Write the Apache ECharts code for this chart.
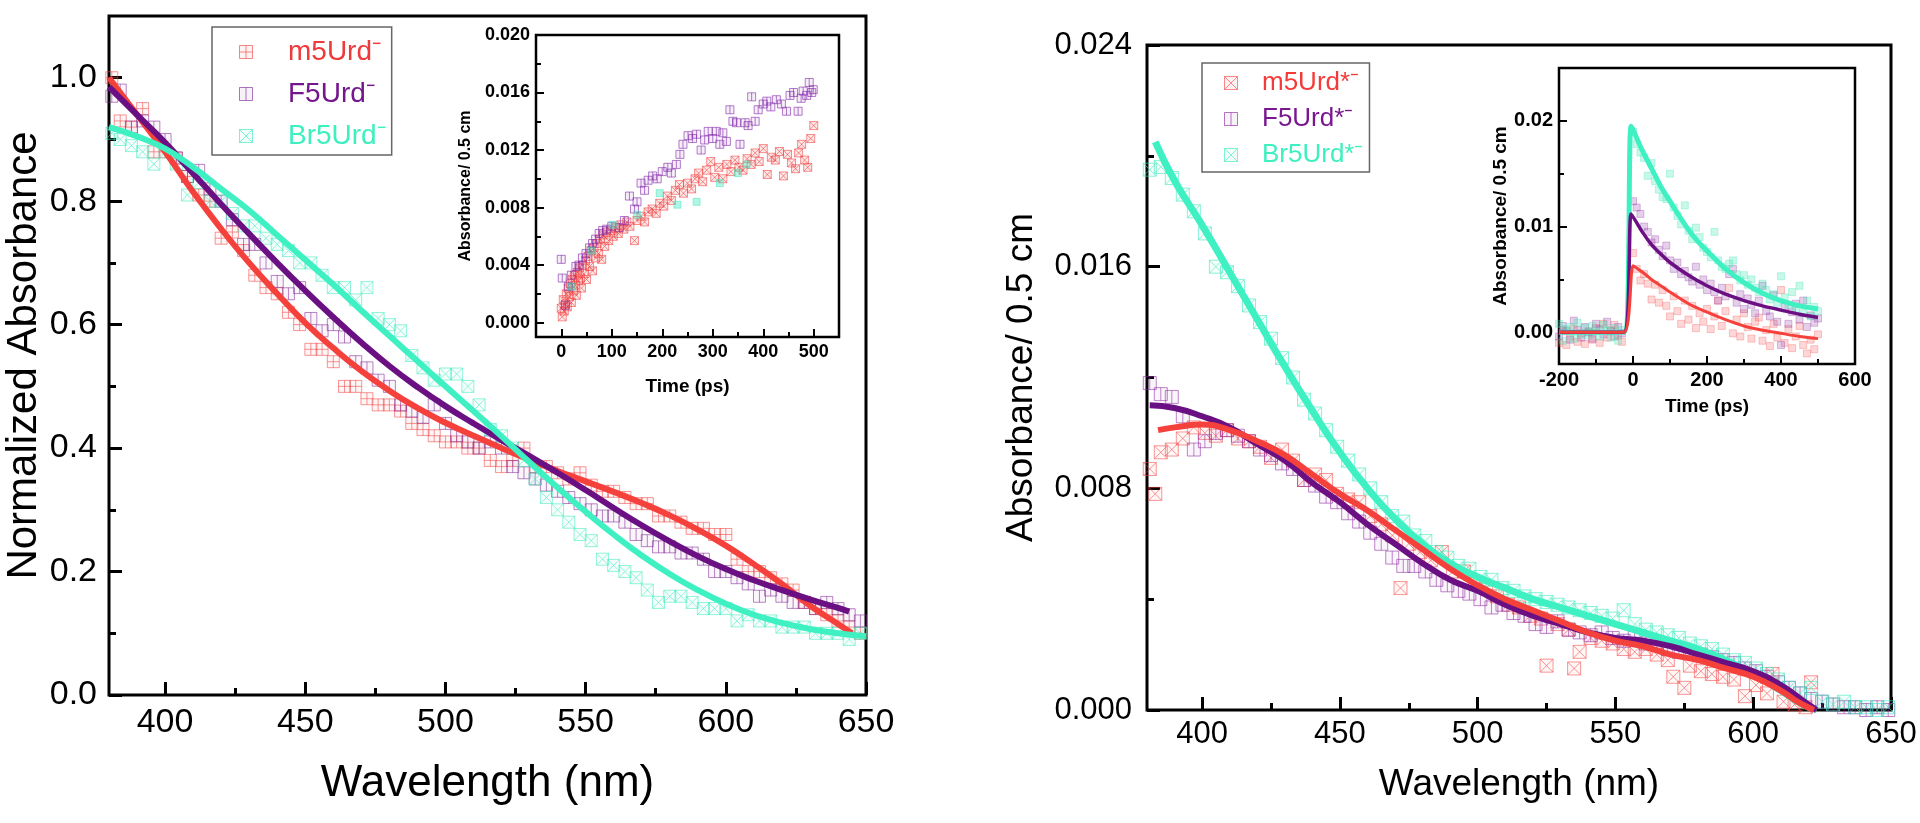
<!DOCTYPE html>
<html>
<head>
<meta charset="utf-8">
<script src="https://cdn.jsdelivr.net/npm/echarts@6/dist/echarts.min.js"></script>
<style>
  html, body { margin: 0; padding: 0; background: #fff; }
  #chart { width: 1920px; height: 823px; }
</style>
</head>
<body>
<div id="chart"></div>
<script>
// ---- left panel: normalized spectra ----
const wlLeft = [381,384,388,392,396,400,404,408,412,416,420,424,428,432,436,440,444,448,452,456,460,464,468,472,476,480,484,488,492,496,500,504,508,512,516,520,524,528,532,536,540,544,548,552,556,560,564,568,572,576,580,584,588,592,596,600,604,608,612,616,620,624,628,632,636,640,644,648]
const m5Left = [1.00,0.93,0.92,0.95,0.88,0.88,0.87,0.84,0.81,0.80,
  0.74,0.75,0.72,0.68,0.66,0.65,0.62,0.60,0.56,0.56,
  0.54,0.50,0.50,0.48,0.47,0.47,0.46,0.44,0.43,0.42,
  0.41,0.41,0.40,0.40,0.38,0.37,0.38,0.40,0.37,0.37,
  0.36,0.35,0.36,0.34,0.33,0.33,0.32,0.31,0.31,0.29,
  0.29,0.28,0.27,0.27,0.26,0.26,0.22,0.20,0.20,0.19,
  0.18,0.17,0.15,0.14,0.13,0.12,0.11,0.10]
const f5Left = [0.97,0.98,0.92,0.93,0.92,0.90,0.87,0.84,0.85,0.82,
  0.80,0.77,0.73,0.73,0.70,0.67,0.65,0.66,0.61,0.59,
  0.60,0.58,0.54,0.53,0.51,0.50,0.47,0.46,0.45,0.47,
  0.44,0.42,0.41,0.40,0.41,0.40,0.37,0.36,0.35,0.34,
  0.33,0.32,0.31,0.30,0.29,0.29,0.28,0.26,0.25,0.24,
  0.24,0.23,0.23,0.22,0.20,0.20,0.19,0.18,0.16,0.17,
  0.16,0.15,0.15,0.14,0.15,0.14,0.13,0.12]
const br5Left = [0.91,0.90,0.89,0.88,0.86,0.88,0.86,0.81,0.83,0.80,
  0.80,0.78,0.76,0.76,0.74,0.73,0.72,0.70,0.70,0.68,
  0.66,0.66,0.64,0.66,0.61,0.60,0.59,0.55,0.53,0.51,
  0.52,0.52,0.50,0.47,0.43,0.42,0.40,0.38,0.35,0.32,
  0.30,0.28,0.26,0.25,0.22,0.21,0.20,0.19,0.17,0.15,
  0.16,0.16,0.15,0.14,0.14,0.14,0.12,0.13,0.12,0.12,
  0.11,0.11,0.11,0.10,0.10,0.10,0.09,0.10]
const m5LeftFit = [[380,1.0],[390,0.94],[400,0.88],[410,0.815],[420,0.755],[430,0.70],[440,0.65],[450,0.603],[460,0.562],[470,0.525],[480,0.493],[490,0.465],[500,0.441],[510,0.42],[520,0.40],[530,0.381],[540,0.363],[550,0.346],[560,0.329],[570,0.311],[580,0.291],[590,0.268],[600,0.242],[610,0.212],[620,0.18],[630,0.145],[640,0.115],[645,0.10]]
const f5LeftFit = [[380,0.985],[390,0.94],[400,0.895],[410,0.845],[420,0.795],[430,0.747],[440,0.70],[450,0.655],[460,0.612],[470,0.571],[480,0.533],[490,0.499],[500,0.468],[510,0.44],[520,0.413],[530,0.387],[540,0.36],[550,0.332],[560,0.303],[570,0.275],[580,0.249],[590,0.225],[600,0.204],[610,0.186],[620,0.17],[630,0.155],[640,0.141],[644,0.135]]
const br5LeftFit = [[380,0.92],[390,0.905],[400,0.885],[410,0.855],[420,0.82],[430,0.785],[440,0.745],[450,0.705],[460,0.665],[470,0.623],[480,0.582],[490,0.541],[500,0.50],[510,0.46],[520,0.419],[530,0.377],[540,0.336],[550,0.297],[560,0.26],[570,0.226],[580,0.196],[590,0.17],[600,0.148],[610,0.13],[620,0.117],[630,0.107],[640,0.10],[650,0.095]]

// left inset: growth kinetics
const m5GrowInset = [[0,0.0010],[2,0.0004],[4,0.0016],[6,0.0008],[8,0.0013],[10,0.0020],[12,0.0011],[14,0.0024],[16,0.0018],[18,0.0027],[20,0.0014],[22,0.0030],[24,0.0022],[26,0.0033],[28,0.0026],[30,0.0019],[32,0.0035],[34,0.0029],[36,0.0038],[38,0.0031],[40,0.0024],[42,0.0040],[45,0.0034],[48,0.0043],[50,0.0030],[53,0.0046],[56,0.0039],[59,0.0050],[62,0.0036],[65,0.0052],[68,0.0045],[71,0.0055],[74,0.0048],[77,0.0058],[80,0.0044],[83,0.0061],[86,0.0053],[90,0.0063],[94,0.0057],[98,0.0064],[103,0.0060],[108,0.0066],[113,0.0062],[118,0.0068],[124,0.0065],[130,0.0070],[136,0.0067],[145,0.0057],[150,0.0071],[158,0.0074],[165,0.0070],[172,0.0077],[180,0.0079],[188,0.0076],[195,0.0083],[203,0.0081],[210,0.0088],[218,0.0085],[226,0.0092],[234,0.0096],[242,0.0090],[250,0.0097],[258,0.0093],[265,0.0100],[272,0.0104],[280,0.0098],[288,0.0106],[296,0.0112],[304,0.0101],[312,0.0108],[320,0.0100],[328,0.0110],[336,0.0105],[344,0.0113],[352,0.0108],[360,0.0106],[368,0.0114],[376,0.0110],[384,0.0118],[392,0.0112],[400,0.0121],[408,0.0103],[416,0.0115],[424,0.0113],[432,0.0119],[440,0.0102],[448,0.0117],[456,0.0111],[464,0.0107],[470,0.0118],[476,0.0124],[482,0.0113],[488,0.0108],[494,0.0128],[500,0.0137]]
const f5GrowInset = [[0,0.0044],[2,0.0031],[8,0.0012],[14,0.0025],[20,0.0033],[29,0.0039],[35,0.0040],[42,0.0045],[49,0.0048],[56,0.0052],[62,0.0055],[68,0.0058],[75,0.0062],[82,0.0064],[90,0.0065],[100,0.0067],[115,0.0066],[125,0.0071],[135,0.0088],[145,0.0079],[150,0.0084],[158,0.0097],[165,0.0092],[172,0.0099],[181,0.0102],[190,0.0100],[200,0.0105],[211,0.0108],[218,0.0104],[228,0.0110],[235,0.0117],[241,0.0124],[251,0.0130],[260,0.0128],[268,0.0131],[277,0.0120],[284,0.0127],[291,0.0133],[300,0.0128],[307,0.0133],[314,0.0124],[320,0.0132],[327,0.0126],[334,0.0148],[340,0.0140],[347,0.0139],[354,0.0124],[364,0.0139],[370,0.0137],[377,0.0157],[384,0.0140],[390,0.0148],[400,0.0152],[407,0.0154],[415,0.0150],[426,0.0155],[436,0.0152],[446,0.0147],[453,0.0158],[460,0.0160],[469,0.0147],[475,0.0156],[479,0.0161],[486,0.0158],[491,0.0167],[496,0.0160],[499,0.0162]]
const br5GrowInset = [[20,0.0025],[60,0.0050],[102,0.0068],[150,0.0075],[195,0.0090],[230,0.0082],[268,0.0084],[314,0.0097],[350,0.0104],[367,0.0110]]

// ---- right panel: absolute spectra ----
const wlRight = [381,385,389,393,397,401,405,409,413,417,421,425,429,433,437,441,445,449,453,457,461,465,469,473,477,481,485,489,493,497,501,505,509,513,517,521,525,529,533,537,541,545,549,553,557,561,565,569,573,577,581,585,589,593,597,601,605,609,613,617,621,625,629,633,637,641,645,649]
const br5Right = [0.0195,0.0196,0.0192,0.0186,0.0180,0.0172,0.0160,0.0158,0.0153,0.0146,
  0.0140,0.0134,0.0127,0.0120,0.0112,0.0107,0.0101,0.0095,0.0090,0.0085,
  0.0080,0.0075,0.0070,0.0068,0.0063,0.0061,0.0057,0.0055,0.0052,0.0051,
  0.0048,0.0047,0.0044,0.0043,0.0041,0.0040,0.0039,0.0038,0.0037,0.0036,
  0.0035,0.0034,0.0033,0.0036,0.0031,0.0029,0.0028,0.0027,0.0026,0.0024,
  0.0023,0.0022,0.0020,0.0018,0.0017,0.0015,0.0013,0.0011,0.0008,0.0006,
  0.0008,0.0003,0.0002,0.0003,0.0001,0.0001,0.0000,0.0001]
const f5Right = [0.0118,0.0114,0.0113,0.0106,0.0094,0.0097,0.0100,0.0101,0.0099,0.0097,
  0.0094,0.0092,0.0089,0.0087,0.0083,0.0081,0.0077,0.0075,0.0071,0.0068,
  0.0064,0.0060,0.0055,0.0052,0.0052,0.0050,0.0047,0.0045,0.0043,0.0042,
  0.0040,0.0037,0.0038,0.0035,0.0034,0.0031,0.0030,0.0032,0.0029,0.0028,
  0.0027,0.0028,0.0026,0.0025,0.0026,0.0024,0.0024,0.0022,0.0021,0.0021,
  0.0020,0.0019,0.0018,0.0017,0.0015,0.0014,0.0012,0.0010,0.0008,0.0006,
  0.0004,0.0003,0.0002,0.0001,0.0001,0.0000,0.0001,0.0000]
const m5Right = [[381,0.0087],[383,0.0078],[385,0.0093],[389,0.0094],[393,0.0098],[397,0.0102],[401,0.0100],[405,0.0099],[409,0.0101],[413,0.0098],[417,0.0097],[421,0.0095],[425,0.0091],[429,0.0094],[433,0.0090],[437,0.0083],[441,0.0085],[445,0.0083],[449,0.0078],[453,0.0076],[457,0.0075],[461,0.0070],[465,0.0067],[469,0.0063],[472,0.0044],[475,0.0060],[479,0.0057],[483,0.0054],[487,0.0057],[491,0.0050],[495,0.0050],[499,0.0046],[503,0.0044],[507,0.0041],[511,0.0038],[515,0.0037],[519,0.0034],[523,0.0033],[525,0.0016],[529,0.0031],[533,0.0029],[535,0.0015],[537,0.0021],[541,0.0026],[545,0.0025],[549,0.0024],[553,0.0022],[557,0.0021],[561,0.0022],[565,0.0020],[569,0.0018],[571,0.0012],[575,0.0008],[577,0.0016],[581,0.0014],[585,0.0013],[589,0.0012],[593,0.0011],[597,0.0005],[601,0.0009],[605,0.0006],[607,0.0013],[611,0.0003],[615,0.0002],[619,0.0001],[621,0.0010]]
const br5RightFit = [[383,0.0205],[390,0.0191],[400,0.0175],[410,0.0158],[420,0.0141],[430,0.0124],[440,0.0108],[450,0.0093],[460,0.0080],[470,0.0069],[480,0.0060],[490,0.0053],[500,0.0048],[510,0.0044],[520,0.0040],[530,0.0037],[540,0.0034],[550,0.0031],[560,0.0028],[570,0.0025],[580,0.0022],[590,0.0018],[600,0.0013],[610,0.0007],[618,0.0002],[623,0]]
const f5RightFit = [[381,0.0110],[390,0.0109],[400,0.0106],[410,0.0102],[420,0.0096],[430,0.0090],[440,0.0082],[450,0.0075],[460,0.0067],[470,0.0060],[480,0.0053],[490,0.0047],[500,0.0043],[510,0.0038],[520,0.0034],[530,0.0031],[540,0.0028],[550,0.0026],[560,0.0025],[570,0.0023],[580,0.0020],[590,0.0017],[600,0.0014],[610,0.0009],[620,0.0002],[623,0]]
const m5RightFit = [[384,0.0101],[390,0.0102],[400,0.0103],[410,0.0101],[420,0.0097],[430,0.0092],[440,0.0085],[450,0.0078],[460,0.0072],[470,0.0065],[480,0.0058],[490,0.0051],[500,0.0045],[510,0.0040],[520,0.0036],[530,0.0032],[540,0.0028],[550,0.0025],[560,0.0023],[570,0.0020],[580,0.0018],[590,0.0015],[600,0.0012],[610,0.0007],[616,0.0003],[622,0]]

// right inset: decay kinetics
const tDecay = [-200,-190,-180,-170,-160,-150,-140,-130,-120,-110,-100,-90,-80,-70,-60,-50,-40,-30,
  0,10,20,30,40,50,60,70,80,90,100,110,120,130,140,150,160,170,180,190,200,210,220,230,240,250,260,270,280,290,300,310,320,330,340,350,360,370,380,390,400,410,420,430,440,450,460,470,480,490,500]
const br5Decay = [0.0008,-0.0008,0.0003,0.0005,-0.0006,0.0009,-0.0002,0.0004,-0.0003,0.0006,0.0001,-0.0004,0.0007,0.0002,-0.0005,0.0004,-0.0008,0.0002,
  0.0190,0.0178,0.0170,0.0165,0.0148,0.0160,0.0143,0.0135,0.0128,0.0126,
  0.0150,0.0118,0.0110,0.0102,0.0120,0.0096,0.0088,0.0099,0.0090,0.0080,
  0.0076,0.0071,0.0095,0.0068,0.0062,0.0060,0.0065,0.0068,0.0055,0.0049,
  0.0054,0.0045,0.0050,0.0042,0.0038,0.0046,0.0040,0.0031,0.0036,0.0028,
  0.0053,0.0033,0.0026,0.0038,0.0022,0.0044,0.0018,0.0030,0.0015,0.0024,
  0.0020]
const f5Decay = [-0.0004,0.0006,0.0001,-0.0007,0.0011,0.0002,-0.0005,0.0005,0.0000,-0.0006,0.0008,0.0003,-0.0002,0.0010,0.0001,-0.0004,0.0005,-0.0001,
  0.0124,0.0118,0.0112,0.0100,0.0095,0.0085,0.0088,0.0078,0.0072,0.0082,
  0.0068,0.0060,0.0066,0.0055,0.0058,0.0052,0.0048,0.0062,0.0045,0.0050,
  0.0040,0.0046,0.0038,0.0030,0.0042,0.0034,0.0055,0.0060,0.0028,0.0036,
  0.0022,0.0032,0.0026,0.0018,0.0030,0.0044,0.0020,0.0015,0.0035,0.0010,
  -0.0012,0.0024,0.0008,0.0019,0.0027,0.0012,0.0030,0.0005,0.0016,0.0009,
  0.0013]
const m5Decay = [-0.0010,0.0002,-0.0012,-0.0004,0.0003,-0.0009,-0.0001,-0.0011,0.0001,-0.0007,0.0004,-0.0010,0.0008,-0.0005,0.0002,0.0007,-0.0003,-0.0009,
  0.0075,0.0060,0.0049,0.0055,0.0046,0.0031,0.0045,0.0028,0.0040,0.0025,
  0.0015,0.0034,0.0020,0.0008,0.0030,0.0012,0.0025,0.0004,0.0018,0.0010,
  0.0022,0.0003,0.0015,0.0030,0.0006,0.0020,0.0042,-0.0001,0.0012,-0.0004,
  0.0018,0.0005,-0.0006,0.0010,0.0014,-0.0008,0.0002,-0.0013,0.0008,-0.0005,
  0.0040,-0.0010,0.0003,-0.0015,-0.0004,0.0006,-0.0012,-0.0020,-0.0007,-0.0016,
  -0.0002]
const br5DecayFit = [[-200,0],[-25,0],[-5,0.0195],[25,0.0172],[50,0.0155],[75,0.0138],[100,0.0124],[125,0.0110],[150,0.0097],[175,0.0086],[200,0.0077],[250,0.0060],[300,0.0047],[350,0.0037],[400,0.0030],[450,0.0025],[500,0.0022]]
const f5DecayFit = [[-200,0],[-25,0],[-5,0.0112],[25,0.0095],[50,0.0083],[75,0.0074],[100,0.0066],[150,0.0054],[200,0.0044],[250,0.0036],[300,0.0030],[350,0.0025],[400,0.0021],[450,0.0017],[500,0.0014]]
const m5DecayFit = [[-200,0],[-25,0],[0,0.0063],[25,0.0057],[50,0.0050],[75,0.0044],[100,0.0038],[150,0.0027],[200,0.0019],[250,0.0012],[300,0.0006],[350,0.0002],[400,-0.0001],[450,-0.0004],[500,-0.0006]]

// tick values
const wlTicks = [400,450,500,550,600,650], wlMinor = [425,475,525,575,625]
const normTicks = [0,0.2,0.4,0.6,0.8,1.0], normMinor = [0.1,0.3,0.5,0.7,0.9]
const growTicks = [0,100,200,300,400,500], growMinor = [50,150,250,350,450]
const growYTicks = [0,0.004,0.008,0.012,0.016,0.020], growYMinor = [0.002,0.006,0.010,0.014,0.018]
const absTicks = [0,0.008,0.016,0.024], absMinor = [0.004,0.012,0.020]
const decayTicks = [-200,0,200,400,600], decayMinor = [-100,100,300,500]
const decayYTicks = [0,0.01,0.02], decayYMinor = [0.005,0.015]

const FONT = 'Liberation Sans, Arial, sans-serif'
const RED = '#f5413c', PURPLE = '#6b1083', TEAL = '#3ef0c2'
const SYM_PLUS = 'path://M0,0L10,0L10,10L0,10Z M5,0L5,10 M0,5L10,5'
const SYM_BAR = 'path://M0,0L10,0L10,10L0,10Z M5,0L5,10'
const SYM_X = 'path://M0,0L10,0L10,10L0,10Z M0,0L10,10 M10,0L0,10'

function pairs(xs, ys){ return xs.map((x, i) => [x, ys[i]]) }

function majorAxis(grid, min, max, ticks, fmt, o){
  return {
    type: 'value', gridIndex: grid, min: min, max: max, position: o.pos,
    axisLine: { show: false, onZero: false },
    splitLine: { show: false },
    axisTick: { show: true, inside: true, length: o.tick, customValues: ticks, lineStyle: { color: '#000', width: o.tw } },
    axisLabel: { customValues: ticks, formatter: fmt, margin: o.margin, color: '#000',
      fontSize: o.fs, fontFamily: FONT, fontWeight: o.bold ? 'bold' : 'normal' },
    name: o.name, nameLocation: 'middle', nameGap: o.gap,
    nameTextStyle: { color: '#000', fontSize: o.nfs, fontFamily: FONT, fontWeight: o.bold ? 'bold' : 'normal' }
  }
}
function minorAxis(grid, min, max, ticks, pos, len, w){
  return {
    type: 'value', gridIndex: grid, min: min, max: max, position: pos,
    axisLine: { show: false, onZero: false }, splitLine: { show: false },
    axisLabel: { show: false },
    axisTick: { show: true, inside: true, length: len, customValues: ticks, lineStyle: { color: '#000', width: w } }
  }
}
function scatter(name, data, sym, size, rgb, ax, fillA, lineA){
  return {
    name: name, type: 'scatter', data: data, symbol: sym, symbolSize: size,
    xAxisIndex: ax, yAxisIndex: ax, z: 2,
    itemStyle: { color: 'rgba(' + rgb + ',' + fillA + ')', borderColor: 'rgba(' + rgb + ',' + lineA + ')', borderWidth: 1 }
  }
}
function fit(name, data, color, width, ax, smooth){
  return {
    name: name, type: 'line', data: data, xAxisIndex: ax, yAxisIndex: ax, z: 4,
    showSymbol: false, smooth: smooth, lineStyle: { color: color, width: width }
  }
}
function legendItem(name, icon, rgb, textColor){
  return { name: name, icon: icon,
    itemStyle: { color: 'rgba(' + rgb + ',0.08)', borderColor: 'rgba(' + rgb + ',0.8)', borderWidth: 1 },
    textStyle: { color: textColor } }
}

const chart = echarts.init(document.getElementById('chart'))
chart.setOption({
  animation: false,
  backgroundColor: '#fff',
  grid: [
    { left: 109, top: 16, width: 757, height: 679, show: true, borderColor: '#000', borderWidth: 3, backgroundColor: '#fff', outerBoundsMode: 'none' },
    { left: 536, top: 35, width: 303, height: 302, show: true, borderColor: '#000', borderWidth: 2.5, backgroundColor: '#fff', outerBoundsMode: 'none' },
    { left: 1147, top: 45, width: 744, height: 665, show: true, borderColor: '#000', borderWidth: 3, backgroundColor: '#fff', outerBoundsMode: 'none' },
    { left: 1559, top: 68, width: 296, height: 296, show: true, borderColor: '#000', borderWidth: 2.5, backgroundColor: '#fff', outerBoundsMode: 'none' }
  ],
  xAxis: [
    majorAxis(0, 380, 650, wlTicks, v => String(v), { pos: 'bottom', tick: 13, tw: 3, margin: 11, fs: 34, name: 'Wavelength (nm)', gap: 67, nfs: 44 }),
    minorAxis(0, 380, 650, wlMinor, 'bottom', 7, 3),
    majorAxis(1, -50, 550, growTicks, v => String(v), { pos: 'bottom', tick: 8, tw: 2, margin: 6, fs: 18, bold: true, name: 'Time (ps)', gap: 40, nfs: 19 }),
    minorAxis(1, -50, 550, growMinor, 'bottom', 5, 2),
    majorAxis(2, 380, 650, wlTicks, v => String(v), { pos: 'bottom', tick: 13, tw: 3, margin: 9, fs: 31, name: 'Wavelength (nm)', gap: 56, nfs: 37 }),
    minorAxis(2, 380, 650, wlMinor, 'bottom', 7, 3),
    majorAxis(3, -200, 600, decayTicks, v => String(v), { pos: 'bottom', tick: 8, tw: 2, margin: 6, fs: 20, bold: true, name: 'Time (ps)', gap: 33, nfs: 19 }),
    minorAxis(3, -200, 600, decayMinor, 'bottom', 5, 2)
  ],
  yAxis: [
    majorAxis(0, 0, 1.1, normTicks, v => v.toFixed(1), { pos: 'left', tick: 13, tw: 3, margin: 12, fs: 34, name: 'Normalized Absorbance', gap: 50, nfs: 42 }),
    minorAxis(0, 0, 1.1, normMinor, 'left', 7, 3),
    majorAxis(1, -0.001, 0.020, growYTicks, v => v.toFixed(3), { pos: 'left', tick: 8, tw: 2, margin: 6, fs: 18, bold: true, name: 'Absorbance/ 0.5 cm', gap: 62, nfs: 16 }),
    minorAxis(1, -0.001, 0.020, growYMinor, 'left', 5, 2),
    majorAxis(2, 0, 0.024, absTicks, v => v.toFixed(3), { pos: 'left', tick: 13, tw: 3, margin: 15, fs: 31, name: 'Absorbance/ 0.5 cm', gap: 107, nfs: 37 }),
    minorAxis(2, 0, 0.024, absMinor, 'left', 7, 3),
    majorAxis(3, -0.003, 0.025, decayYTicks, v => v.toFixed(2), { pos: 'left', tick: 8, tw: 2, margin: 6, fs: 20, bold: true, name: 'Absorbance/ 0.5 cm', gap: 44, nfs: 19 }),
    minorAxis(3, -0.003, 0.025, decayYMinor, 'left', 5, 2)
  ],
  legend: [
    {
      left: 212, top: 27, orient: 'vertical', selectedMode: false,
      padding: [10, 6, 4, 27], itemWidth: 74, itemHeight: 13, itemGap: 12,
      borderColor: '#666', borderWidth: 1.5, backgroundColor: '#fff',
      textStyle: { fontSize: 28, lineHeight: 30, fontFamily: FONT },
      data: [
        legendItem('m5Urd\u207B', SYM_PLUS, '240,70,70', '#ee3a3a'),
        legendItem('F5Urd\u207B', SYM_BAR, '130,40,150', '#74168c'),
        legendItem('Br5Urd\u207B', SYM_X, '60,235,190', '#3ef0c0')
      ]
    },
    {
      left: 1202, top: 63, orient: 'vertical', selectedMode: false,
      padding: [6, 6, 3, 22], itemWidth: 52, itemHeight: 13, itemGap: 8,
      borderColor: '#666', borderWidth: 1.5, backgroundColor: '#fff',
      textStyle: { fontSize: 26, lineHeight: 28, fontFamily: FONT },
      data: [
        legendItem('m5Urd*\u207B', SYM_X, '245,70,70', '#f53a3a'),
        legendItem('F5Urd*\u207B', SYM_BAR, '140,40,160', '#7a1690'),
        legendItem('Br5Urd*\u207B', SYM_X, '60,235,190', '#3ef0c0')
      ]
    }
  ],
  series: [
    // left main
    scatter('m5Urd\u207B', pairs(wlLeft, m5Left), SYM_PLUS, 12, '240,70,70', 0, 0.06, 0.7),
    scatter('F5Urd\u207B', pairs(wlLeft, f5Left), SYM_BAR, 12, '130,40,150', 0, 0.06, 0.7),
    scatter('Br5Urd\u207B', pairs(wlLeft, br5Left), SYM_X, 12, '60,235,190', 0, 0.06, 0.7),
    fit('m5 fit L', m5LeftFit, RED, 6, 0, 0.5),
    fit('F5 fit L', f5LeftFit, PURPLE, 6, 0, 0.5),
    fit('Br5 fit L', br5LeftFit, TEAL, 6, 0, 0.5),
    // left inset
    scatter('m5 grow', m5GrowInset, SYM_X, 8, '240,60,60', 2, 0.15, 0.7),
    scatter('F5 grow', f5GrowInset, SYM_BAR, 8, '130,40,170', 2, 0.1, 0.75),
    scatter('Br5 grow', br5GrowInset, 'rect', 7, '60,230,190', 2, 0.5, 0.6),
    // right main
    scatter('m5Urd*\u207B', m5Right, SYM_X, 13, '245,70,70', 4, 0.06, 0.7),
    scatter('F5Urd*\u207B', pairs(wlRight, f5Right), SYM_BAR, 13, '140,40,160', 4, 0.06, 0.7),
    scatter('Br5Urd*\u207B', pairs(wlRight, br5Right), SYM_X, 13, '60,235,190', 4, 0.06, 0.75),
    fit('Br5 fit R', br5RightFit, TEAL, 7, 4, 0.5),
    fit('F5 fit R', f5RightFit, PURPLE, 6, 4, 0.5),
    fit('m5 fit R', m5RightFit, RED, 6, 4, 0.5),
    // right inset
    scatter('m5 decay', pairs(tDecay, m5Decay), 'rect', 7, '245,90,90', 6, 0.3, 0.4),
    scatter('F5 decay', pairs(tDecay, f5Decay), 'rect', 7, '150,60,170', 6, 0.3, 0.4),
    scatter('Br5 decay', pairs(tDecay, br5Decay), 'rect', 7, '60,230,180', 6, 0.35, 0.4),
    fit('Br5 decay fit', br5DecayFit, TEAL, 5, 6, 0.2),
    fit('F5 decay fit', f5DecayFit, PURPLE, 3.5, 6, 0.2),
    fit('m5 decay fit', m5DecayFit, RED, 3, 6, 0.2)
  ]
})
</script>
</body>
</html>
